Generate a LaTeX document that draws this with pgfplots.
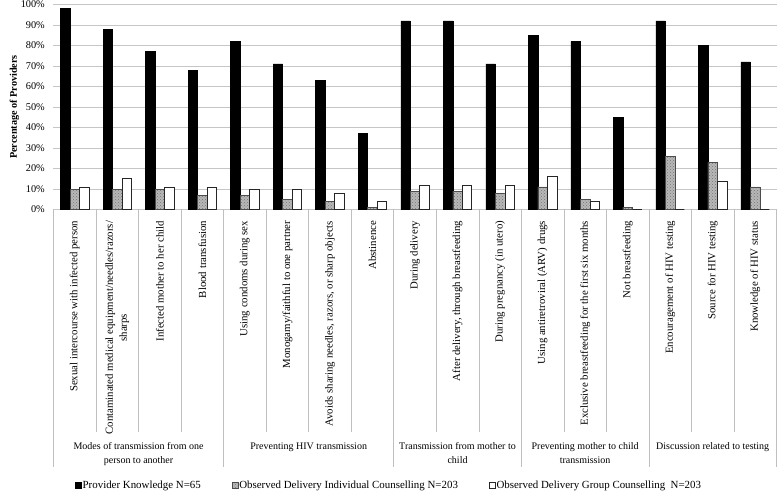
\documentclass[border=0pt]{standalone}
\usepackage{pgfplots}
\pgfplotsset{compat=1.18}
\usepackage{pgfplotstable}
\usetikzlibrary{patterns}
\usepackage{fontspec}
\setmainfont{Liberation Serif}

\pgfplotstableread{
x K I G
1 98 10 11
2 88 10 15
3 77 10 11
4 68 7 11
5 82 7 10
6 71 5 10
7 63 4 8
8 37 1 4
9 92 9 12
10 92 9 12
11 71 8 12
12 85 11 16
13 82 5 4
14 45 1 0
15 92 26 0
16 80 23 14
17 72 11 0
}\datatable

\begin{document}
\begin{tikzpicture}[font=\fontsize{10}{12}\selectfont]
\useasboundingbox (-53.5pt,-282.5pt) rectangle (724.5pt,209.5pt);
\begin{axis}[
  at={(0pt,0pt)}, anchor=south west,
  scale only axis, width=723pt, height=205pt,
  xmin=0.5, xmax=17.5, ymin=0, ymax=100,
  ybar=0pt, bar width=9.5pt,
  axis line style={draw=none},
  ymajorgrids, grid style={gray!45, line width=0.6pt},
  ytick={0,10,...,100},
  yticklabel={\pgfmathprintnumber{\tick}\%},
  /pgf/number format/assume math mode=true,
  tick style={draw=none},
  yticklabel style={font=\fontsize{10.3}{12}\selectfont, inner xsep=0pt, xshift=-8.5pt},
  ylabel={\textbf{Percentage of Providers}},
  ylabel style={font=\fontsize{10.2}{12}\selectfont, yshift=-2pt},
  xtick={1,...,17},
  xticklabels={
    {Sexual intercourse with infected person},
    {Contaminated medical equipment/needles/razors/\\sharps},
    {Infected mother to her child},
    {Blood transfusion},
    {Using condoms during sex},
    {Monogamy/faithful to one partner},
    {Avoids sharing needles, razors, or sharp objects},
    {Abstinence},
    {During delivery},
    {After delivery, through breastfeeding},
    {During pregnancy (in utero)},
    {Using antiretroviral (ARV) drugs},
    {Exclusive breastfeeding for the first six months},
    {Not breastfeeding},
    {Encouragement of HIV testing},
    {Source for HIV testing},
    {Knowledge of HIV status}},
  xticklabel style={rotate=90, anchor=east, align=center, inner xsep=7pt, inner ysep=0pt,
    font=\fontsize{10.8}{14}\selectfont},
  clip=false,
  legend style={at={(axis description cs:0.0297,-1.344)}, anchor=west, draw=none,
    inner sep=0pt, font=\fontsize{10.9}{12}\selectfont, legend columns=3,
    /tikz/every even column/.append style={column sep=30pt},
    /tikz/every odd column/.append style={column sep=0pt},
    nodes={inner xsep=1pt}},
  legend image code/.code={\draw[#1] (0pt,-3pt) rectangle (6pt,3pt);},
]
\addplot[draw=black, fill=black, line width=0.5pt] table[x=x, y=K] {\datatable};
\addplot[draw=black!70, fill=black!28, line width=0.5pt, postaction={pattern=crosshatch dots, pattern color=black!55}] table[x=x, y=I] {\datatable};
\addplot[draw=black!85, fill=white, line width=0.6pt] table[x=x, y=G] {\datatable};
\legend{Provider Knowledge N=65, Observed Delivery Individual Counselling N=203, Observed Delivery Group Counselling\ \ N=203}
\end{axis}
\foreach \i in {1,2,3,5,6,7,9,10,12,13,15,16}
  \draw[gray!50, line width=0.6pt] ({\i*42.5294pt},0pt) -- ({\i*42.5294pt},-222.5pt);
\foreach \i in {0,4,8,11,14,17}
  \draw[gray!50, line width=0.6pt] ({\i*42.5294pt},0pt) -- ({\i*42.5294pt},-257.5pt);
\begin{scope}[every node/.style={align=center, anchor=north, inner sep=0pt, font=\fontsize{10}{13.5}\selectfont}]
\node at ({2*42.5294pt},-233pt) {Modes of transmission from one\\person to another};
\node at ({6*42.5294pt},-233pt) {Preventing HIV transmission};
\node at ({9.5*42.5294pt},-233pt) {Transmission from mother to\\child};
\node at ({12.5*42.5294pt},-233pt) {Preventing mother to child\\transmission};
\node at ({15.5*42.5294pt},-233pt) {Discussion related to testing};
\end{scope}
\end{tikzpicture}
\end{document}
